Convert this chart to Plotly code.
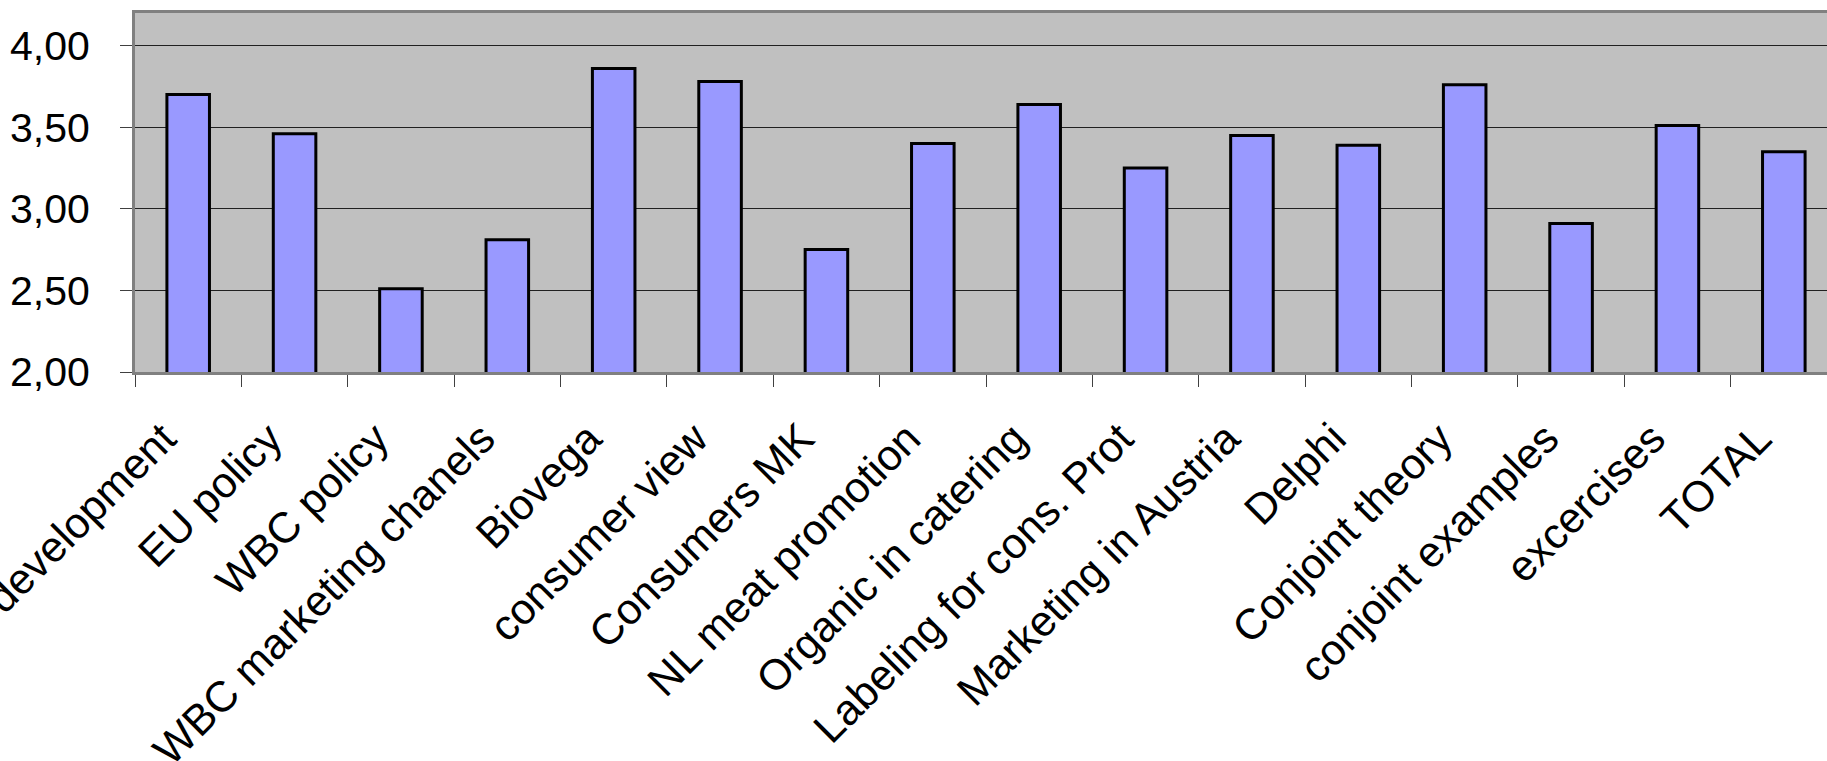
import plotly.graph_objects as go

categories = [
    "Market development", "EU policy", "WBC policy", "WBC marketing chanels",
    "Biovega", "consumer view", "Consumers MK", "NL meat promotion",
    "Organic in catering", "Labeling for cons. Prot", "Marketing in Austria",
    "Delphi", "Conjoint theory", "conjoint examples", "excercises", "TOTAL",
]
scores = [3.70, 3.46, 2.51, 2.81, 3.86, 3.78, 2.75, 3.40,
          3.64, 3.25, 3.45, 3.39, 3.76, 2.91, 3.51, 3.35]
y_ticks = [2.0, 2.5, 3.0, 3.5, 4.0]

FONT = "Liberation Sans, Arial, sans-serif"

fig = go.Figure(go.Bar(
    x=categories,
    y=scores,
    width=0.4,
    marker=dict(color="#9999FF", line=dict(color="black", width=3)),
))

fig.update_layout(
    width=1827, height=761,
    margin=dict(l=135, r=0, t=13, b=389),
    paper_bgcolor="white",
    plot_bgcolor="#C0C0C0",
    showlegend=False,
    separators=",.",
    font=dict(family=FONT, color="black"),
)

fig.update_xaxes(
    type="category",
    range=[-0.5, 15.406],
    tickangle=-45,
    tickfont=dict(size=43, family=FONT, color="black"),
    ticks="outside", ticklen=12, tickcolor="#404040", tickwidth=1,
    tickson="boundaries",
    ticklabelstandoff=21, ticklabelshift=-25,
    ticklabeloverflow="allow",
    showline=True, linecolor="#808080", linewidth=3, mirror=True,
    showgrid=False, zeroline=False,
    automargin=False,
)

fig.update_yaxes(
    range=[2.0, 4.2],
    tickmode="array",
    tickvals=y_ticks,
    tickformat=".2f",
    tickfont=dict(size=41, family=FONT, color="black"),
    ticks="outside", ticklen=12, tickcolor="#404040", tickwidth=1,
    ticklabelstandoff=22,
    showline=True, linecolor="#808080", linewidth=3, mirror=True,
    showgrid=True, gridcolor="#202020", gridwidth=1,
    zeroline=False,
    automargin=False,
)

fig.write_html("out.html")
